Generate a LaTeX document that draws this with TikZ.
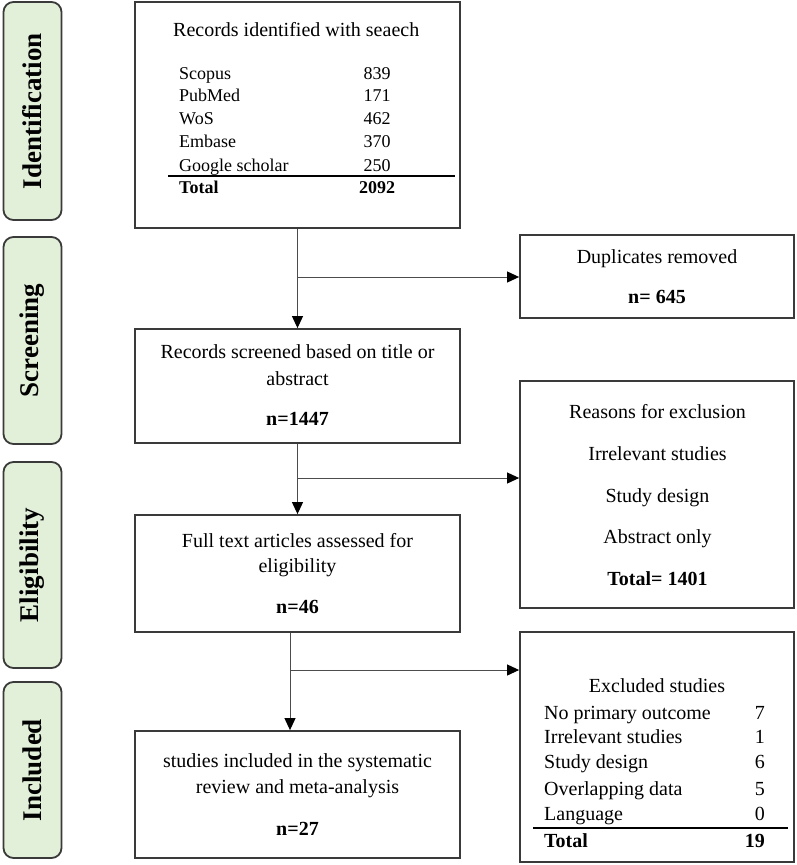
\documentclass[tikz,border=0pt]{standalone}
\usepackage{fontspec}
\setmainfont{Liberation Serif}
\usetikzlibrary{arrows.meta}
\definecolor{labg}{HTML}{E2EFD9}
\definecolor{edge}{HTML}{3A3A3A}
\begin{document}
\begin{tikzpicture}[x=1pt,y=-1pt,
  box/.style={draw=edge, line width=1.8pt, inner sep=0pt},
  labbox/.style={draw=edge, fill=labg, line width=1.8pt, rounded corners=10pt, rotate=90,
    minimum height=58pt, inner sep=0pt, font=\fontsize{27}{30}\selectfont\bfseries},
  arr/.style={draw=black!70, line width=1pt, -{Triangle[length=12pt,width=11pt,color=black]}},
  txt/.style={anchor=base, inner sep=0pt, font=\fontsize{20}{24}\selectfont},
  btxt/.style={anchor=base, inner sep=0pt, font=\fontsize{20}{24}\selectfont\bfseries},
  tl/.style={anchor=base west, inner sep=0pt, font=\fontsize{18}{22}\selectfont},
  tn/.style={anchor=base, inner sep=0pt, font=\fontsize{18}{22}\selectfont},
  el/.style={anchor=base west, inner sep=0pt, font=\fontsize{20}{24}\selectfont},
  en/.style={anchor=base east, inner sep=0pt, font=\fontsize{20}{24}\selectfont},
]
\useasboundingbox (0,0) rectangle (796,865);

% stage labels
\node[labbox, minimum width=218pt] (lid) at (32.5,111) {Identification};
\node[labbox, minimum width=207pt] (lsc) at (32.5,340.5) {Screening};
\node[labbox, minimum width=206pt] (lel) at (32.5,565) {Eligibility};
\node[labbox, minimum width=176pt] (lin) at (32.5,770) {Included};

% main boxes
\node[box, minimum width=325pt, minimum height=226pt] (b1) at (297.5,115) {};
\node[box, minimum width=325pt, minimum height=114pt] (b2) at (297.5,386) {};
\node[box, minimum width=325pt, minimum height=117pt] (b3) at (297.5,573.5) {};
\node[box, minimum width=325pt, minimum height=127pt] (b4) at (297.5,794.5) {};

% side boxes
\node[box, minimum width=274pt, minimum height=83pt] (dup) at (657,276.5) {};
\node[box, minimum width=274pt, minimum height=227pt] (rea) at (657,494.5) {};
\node[box, minimum width=274pt, minimum height=230pt] (exc) at (657,747) {};

% box 1 content
\node[anchor=base west, inner sep=0pt, font=\fontsize{20}{24}\selectfont] (t1) at (173,36) {Records identified with seaech};
\node[tl] (r1) at (179,79) {Scopus};         \node[tn] (n1) at (377,79) {839};
\node[tl] (r2) at (179,101.7) {PubMed};      \node[tn] (n2) at (377,101.7) {171};
\node[tl] (r3) at (179,124.3) {WoS};         \node[tn] (n3) at (377,124.3) {462};
\node[tl] (r4) at (179,147.7) {Embase};      \node[tn] (n4) at (377,147.7) {370};
\node[tl] (r5) at (179,171) {Google scholar};\node[tn] (n5) at (377,171) {250};
\node[tl, font=\fontsize{18}{22}\selectfont\bfseries] (r6) at (179,193.3) {Total};
\node[tn, font=\fontsize{18}{22}\selectfont\bfseries] (n6) at (377,193.3) {2092};
\coordinate (l1a) at (168,176);
\coordinate (l1b) at (455,176);
\draw[line width=1.3pt] (l1a) -- (l1b);

% box 2 content
\node[txt] (t2a) at (297.5,358) {Records screened based on title or};
\node[txt] (t2b) at (297.5,385) {abstract};
\node[btxt] (t2c) at (297.5,425) {n=1447};

% box 3 content
\node[txt] (t3a) at (297.5,547) {Full text articles assessed for};
\node[txt] (t3b) at (297.5,572) {eligibility};
\node[btxt] (t3c) at (297.5,613) {n=46};

% box 4 content
\node[txt] (t4a) at (297.5,767) {studies included in the systematic};
\node[txt] (t4b) at (297.5,793) {review and meta-analysis};
\node[btxt] (t4c) at (297.5,835) {n=27};

% duplicates
\node[txt] (d1) at (657,263) {Duplicates removed};
\node[btxt] (d2) at (657,303) {n= 645};

% reasons
\node[txt] (q1) at (657.5,418) {Reasons for exclusion};
\node[txt] (q2) at (657.5,460) {Irrelevant studies};
\node[txt] (q3) at (657.5,502) {Study design};
\node[txt] (q4) at (657.5,543) {Abstract only};
\node[btxt] (q5) at (657.5,585) {Total= 1401};

% excluded
\node[txt] (e0) at (657,692) {Excluded studies};
\node[el] (e1) at (544,719) {No primary outcome};   \node[en] (m1) at (765,719) {7};
\node[el] (e2) at (544,743) {Irrelevant studies};    \node[en] (m2) at (765,743) {1};
\node[el] (e3) at (544,768) {Study design};          \node[en] (m3) at (765,768) {6};
\node[el] (e4) at (544,795) {Overlapping data};      \node[en] (m4) at (765,795) {5};
\node[el] (e5) at (544,820) {Language};              \node[en] (m5) at (765,820) {0};
\node[el, font=\fontsize{20}{24}\selectfont\bfseries] (e6) at (544,847) {Total};
\node[en, font=\fontsize{20}{24}\selectfont\bfseries] (m6) at (765,847) {19};
\coordinate (l2a) at (533,828);
\coordinate (l2b) at (788,828);
\draw[line width=1.3pt] (l2a) -- (l2b);

% connectors
\draw[arr] (b1.south) -- (b2.north);
\coordinate (j1) at (297.5,277);
\draw[arr] (j1) -- (j1 -| dup.west);

\draw[arr] (b2.south) -- (b3.north);
\coordinate (j2) at (297.5,478);
\draw[arr] (j2) -- (j2 -| rea.west);

\draw[arr] ([xshift=-7.5pt]b3.south) -- ([xshift=-7.5pt]b4.north);
\coordinate (j3) at (290,670);
\draw[arr] (j3) -- (j3 -| exc.west);
\end{tikzpicture}
\end{document}
